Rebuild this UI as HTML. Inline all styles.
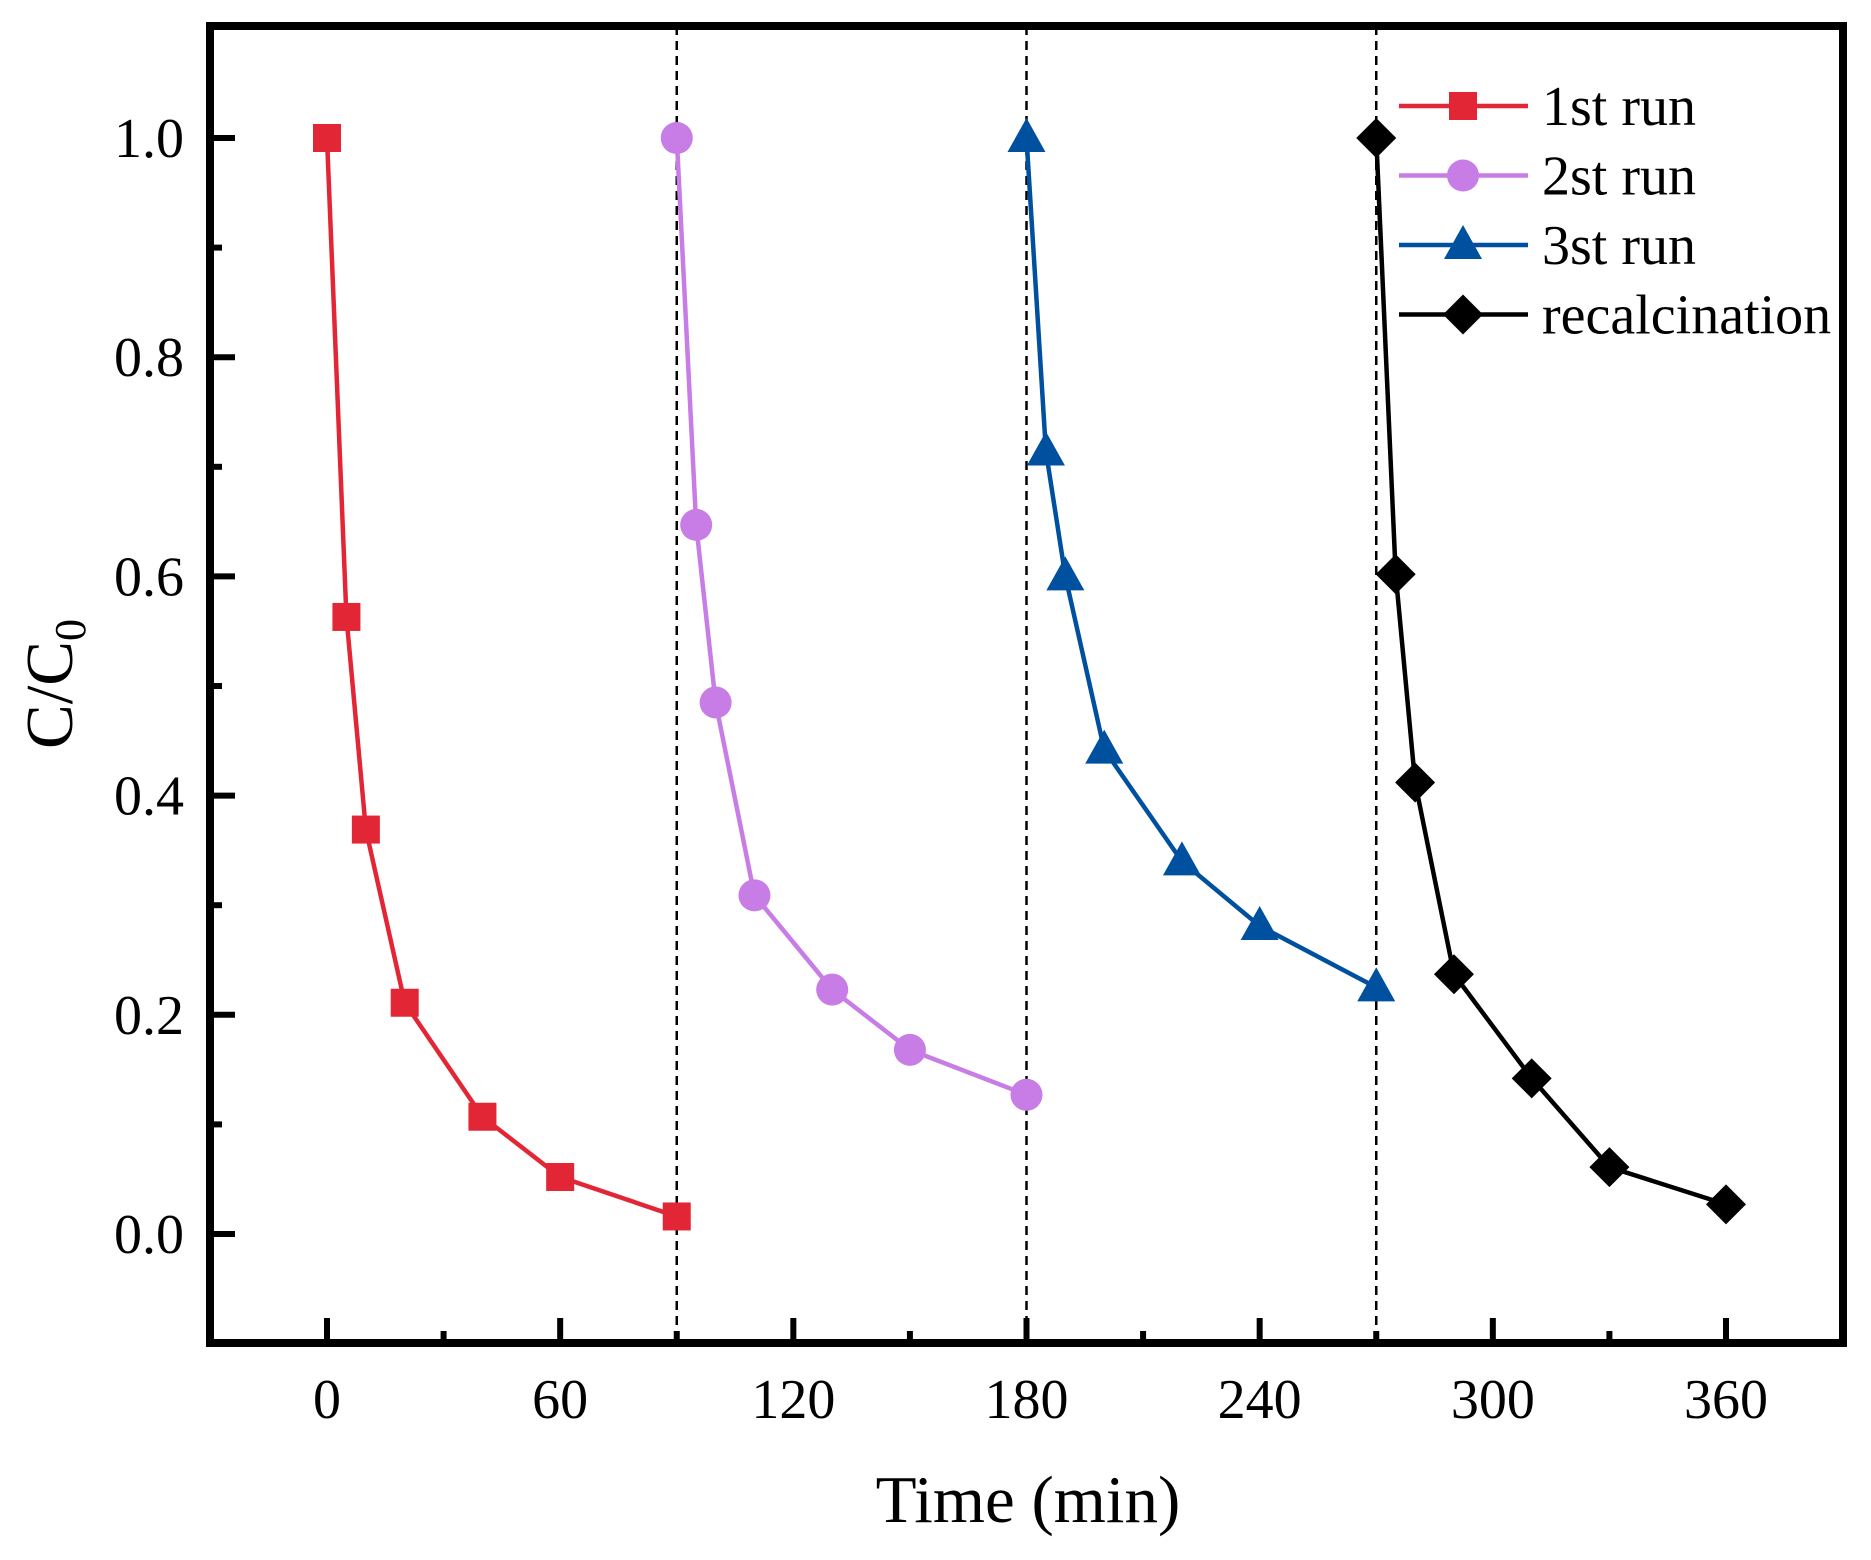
<!DOCTYPE html>
<html><head><meta charset="utf-8"><style>
html,body{margin:0;padding:0;background:#fff;}
svg{display:block;font-family:"Liberation Serif",serif;}
</style></head><body>
<svg id="chart" width="1871" height="1560" viewBox="0 0 1871 1560">
<g id="plot"></g>
</svg>
<script>
const times1 = [0,5,10,20,40,60,90];
const run1 = [1.0,0.563,0.369,0.211,0.107,0.052,0.016];
const times2 = [90,95,100,110,130,150,180];
const run2 = [1.0,0.647,0.485,0.309,0.223,0.168,0.127];
const times3 = [180,185,190,200,220,240,270];
const run3 = [1.0,0.714,0.600,0.442,0.340,0.281,0.225];
const times4 = [270,275,280,290,310,330,360];
const run4 = [1.0,0.602,0.412,0.237,0.142,0.061,0.027];
const xTicks = [0,60,120,180,240,300,360];
const yTicks = [0.0,0.2,0.4,0.6,0.8,1.0];
const dividers = [90,180,270];
const legendLabels = ["1st run","2st run","3st run","recalcination"];

const NS="http://www.w3.org/2000/svg";
const g=document.getElementById('plot');
const L=210,R=1843,T=26,B=1343;
const X=v=>327+v*(1726-327)/360;
const Y=v=>1234-v*(1234-138);
function el(tag,attrs,parent){const e=document.createElementNS(NS,tag);for(const k in attrs)e.setAttribute(k,attrs[k]);(parent||g).appendChild(e);return e;}

dividers.forEach(d=>{
  const e=el('line',{x1:X(d),x2:X(d),y1:T,y2:B,stroke:'#000','stroke-width':2.5,'stroke-dasharray':'9,6'});
  
  
});
for(let v=0;v<=390;v+=30){
  if(X(v)>R)break;
  const major=v%60===0;
  const e=el('line',{x1:X(v),x2:X(v),y1:B,y2:B-(major?25:12),stroke:'#000','stroke-width':6});
  
  
}
xTicks.forEach(v=>{
  const t=el('text',{x:X(v),y:1418,'font-size':56,'text-anchor':'middle'});
  t.textContent=v;
  
  
});
for(let i=-1;i<=10;i++){
  const v=i/10;const yy=Y(v);
  if(yy>B-5||yy<T+5)continue;
  const major=i%2===0;
  const e=el('line',{x1:L,x2:L+(major?25:12),y1:yy,y2:yy,stroke:'#000','stroke-width':6});
  
  
}
yTicks.forEach(v=>{
  const t=el('text',{x:184,y:Y(v)+19,'font-size':56,'text-anchor':'end'});
  t.textContent=v.toFixed(1);
  
  
});
const fr=el('rect',{x:L,y:T,width:R-L,height:B-T,fill:'none',stroke:'#000','stroke-width':8});



function marker(type,cx,cy,color,parent){
  let m;
  if(type==='square')m=el('rect',{x:cx-14,y:cy-14,width:28,height:28,fill:color},parent);
  else if(type==='circle')m=el('circle',{cx:cx,cy:cy,r:16,fill:color},parent);
  else if(type==='triangle')m=el('polygon',{points:`${cx},${cy-20} ${cx-19},${cy+14} ${cx+19},${cy+14}`,fill:color},parent);
  else m=el('polygon',{points:`${cx},${cy-20} ${cx+20},${cy} ${cx},${cy+20} ${cx-20},${cy}`,fill:color},parent);
  return m;
}
const series=[
 {t:times1,v:run1,c:'#e32636',m:'square',n:'run1'},
 {t:times2,v:run2,c:'#c77ce6',m:'circle',n:'run2'},
 {t:times3,v:run3,c:'#0050a0',m:'triangle',n:'run3'},
 {t:times4,v:run4,c:'#000000',m:'diamond',n:'recalcination'}];
series.forEach((s,si)=>{
  const sg=el('g',{});
  
  
  const pl=el('polyline',{points:s.t.map((t,i)=>X(t)+','+Y(s.v[i])).join(' '),fill:'none',stroke:s.c,'stroke-width':4.5},sg);
  
  
  s.t.forEach((t,i)=>{
    const m=marker(s.m,X(t),Y(s.v[i]),s.c,sg);
    
    
  });
  const ly=106+si*69.5;
  const lg=el('g',{});
  
  
  el('line',{x1:1399,x2:1528,y1:ly,y2:ly,stroke:s.c,'stroke-width':4.5},lg);
  marker(s.m,1463,ly,s.c,lg);
  const lt=el('text',{x:1542,y:ly+19,'font-size':56},lg);
  lt.textContent=legendLabels[si];
});
const xt=el('text',{x:1028,y:1522,'font-size':67,'text-anchor':'middle'});
xt.textContent='Time (min)';


const yt=el('text',{x:0,y:0,'font-size':67,'text-anchor':'middle',transform:'translate(72,684) rotate(-90)'});
yt.innerHTML='C/C<tspan font-size="44" dy="13">0</tspan>';


</script>
</body></html>
